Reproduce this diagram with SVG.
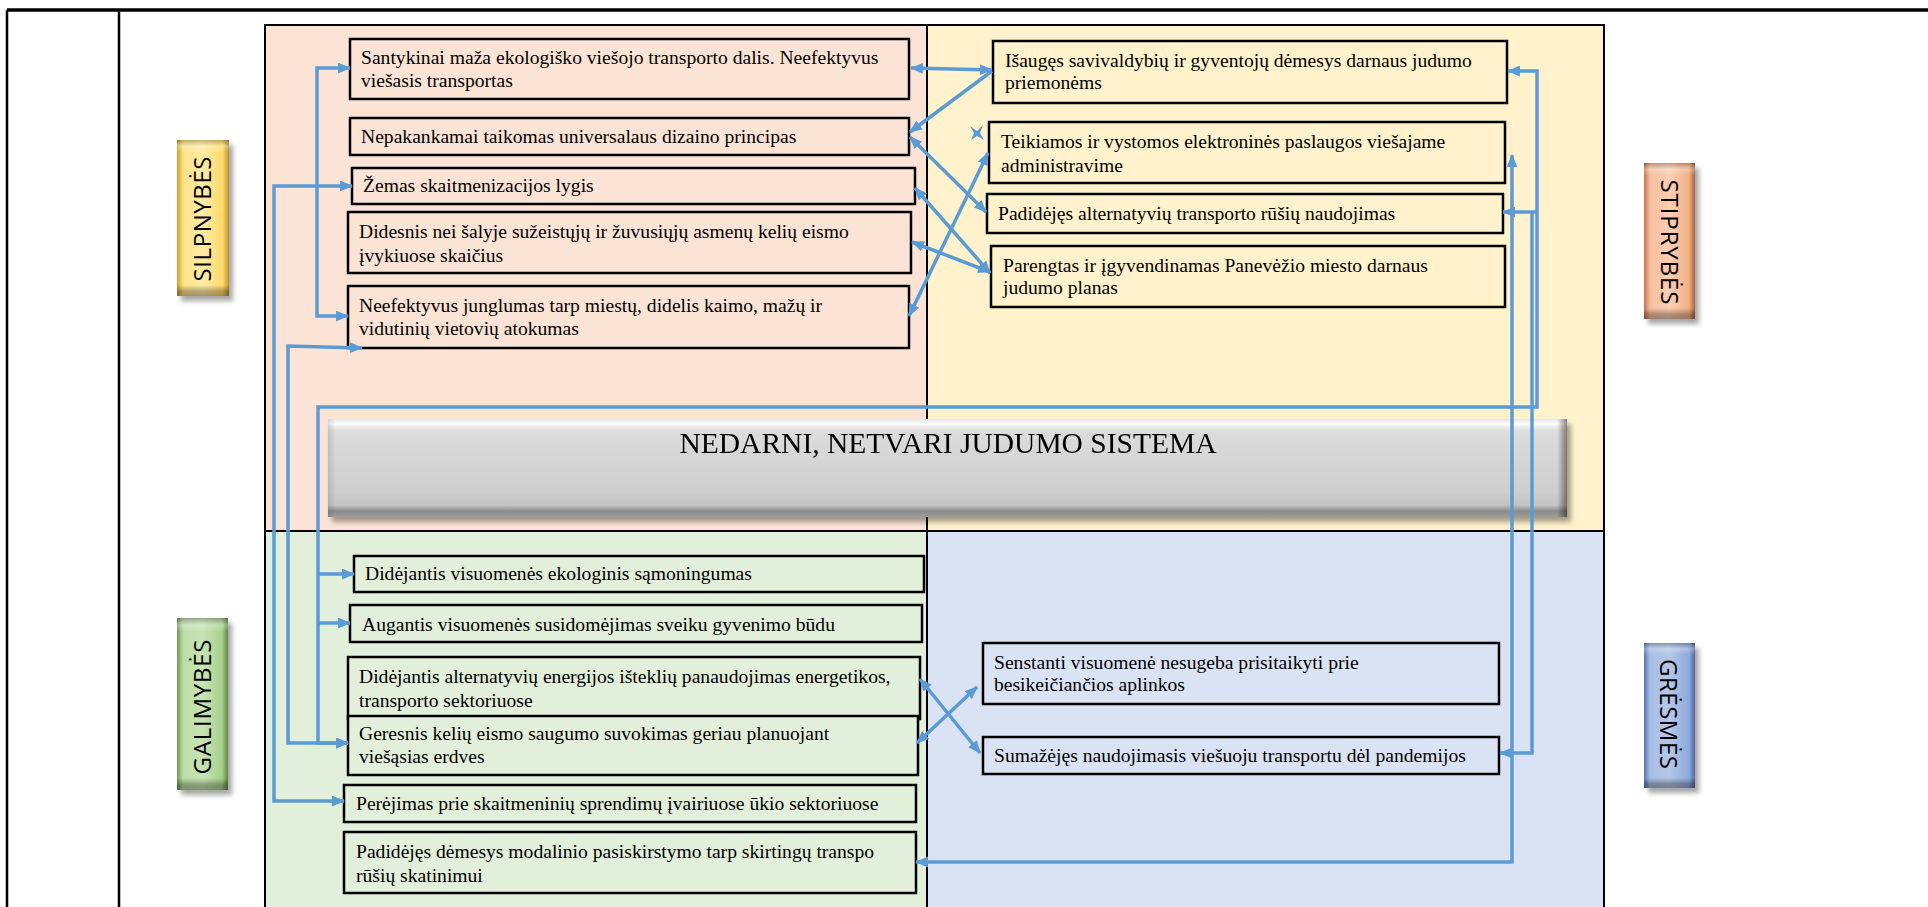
<svg xmlns="http://www.w3.org/2000/svg" width="1928" height="907" viewBox="0 0 1928 907">
<defs>
<style>
.t{font-family:"Liberation Serif","Times New Roman",serif;font-size:19.6px;fill:#000}
.box{stroke:#000;stroke-width:2.5}
.pk{fill:#FBE4D5}.yl{fill:#FFF2CC}.gr{fill:#E2EFDA}.bl{fill:#DAE3F3}
.panel{stroke:#000;stroke-width:2}
.lab{font-family:"Open Sans","Liberation Sans",sans-serif;font-size:24px;fill:#000}
.c{fill:none;stroke:#5B9BD5;stroke-width:3.5;stroke-linejoin:miter}
.bar{font-family:"Liberation Serif","Times New Roman",serif;font-size:29.5px;fill:#000}
</style>
<marker id="ah" viewBox="0 0 12 10" refX="11" refY="5" markerWidth="13" markerHeight="11" markerUnits="userSpaceOnUse" orient="auto-start-reverse">
<path d="M0,0 L12,5 L0,10 z" fill="#5B9BD5"/>
</marker>
<linearGradient id="gGold" x1="0" y1="0" x2="1" y2="0">
<stop offset="0" stop-color="#C9A12E"/><stop offset="0.12" stop-color="#FFE38A"/><stop offset="0.5" stop-color="#FFEBA6"/><stop offset="0.88" stop-color="#FFDA6A"/><stop offset="1" stop-color="#B8922A"/>
</linearGradient>
<linearGradient id="gSal" x1="0" y1="0" x2="1" y2="0">
<stop offset="0" stop-color="#C07650"/><stop offset="0.12" stop-color="#F8BFA0"/><stop offset="0.5" stop-color="#FBCDB3"/><stop offset="0.88" stop-color="#F4B183"/><stop offset="1" stop-color="#A8643F"/>
</linearGradient>
<linearGradient id="gGrn" x1="0" y1="0" x2="1" y2="0">
<stop offset="0" stop-color="#6E9A52"/><stop offset="0.12" stop-color="#BCDDA7"/><stop offset="0.5" stop-color="#C8E4B5"/><stop offset="0.88" stop-color="#A9D18E"/><stop offset="1" stop-color="#5E8644"/>
</linearGradient>
<linearGradient id="gBlu" x1="0" y1="0" x2="1" y2="0">
<stop offset="0" stop-color="#5A74AC"/><stop offset="0.12" stop-color="#A9BEE6"/><stop offset="0.5" stop-color="#B4C7E7"/><stop offset="0.88" stop-color="#8FAADC"/><stop offset="1" stop-color="#4E679E"/>
</linearGradient>
<linearGradient id="gBev" x1="0" y1="0" x2="0" y2="1">
<stop offset="0" stop-color="#000" stop-opacity="0.25"/><stop offset="0.04" stop-color="#fff" stop-opacity="0.25"/><stop offset="0.08" stop-color="#fff" stop-opacity="0"/><stop offset="0.93" stop-color="#000" stop-opacity="0"/><stop offset="0.97" stop-color="#000" stop-opacity="0.3"/><stop offset="1" stop-color="#000" stop-opacity="0.35"/>
</linearGradient>
<linearGradient id="gBar" x1="0" y1="0" x2="0" y2="1">
<stop offset="0" stop-color="#e6e6e6"/><stop offset="0.05" stop-color="#fcfcfc"/><stop offset="0.12" stop-color="#dcdcdc"/><stop offset="0.75" stop-color="#cecece"/><stop offset="0.88" stop-color="#c4c4c4"/><stop offset="0.94" stop-color="#8a8a8a"/><stop offset="1" stop-color="#9e9e9e"/>
</linearGradient>
<linearGradient id="gBarR" x1="0" y1="0" x2="1" y2="0">
<stop offset="0" stop-color="#000" stop-opacity="0.12"/><stop offset="0.006" stop-color="#000" stop-opacity="0"/><stop offset="0.992" stop-color="#000" stop-opacity="0"/><stop offset="1" stop-color="#000" stop-opacity="0.45"/>
</linearGradient>
<filter id="sh" x="-20%" y="-20%" width="150%" height="150%">
<feDropShadow dx="4" dy="5" stdDeviation="2.5" flood-color="#000" flood-opacity="0.35"/>
</filter>
</defs>

<g id="frame" fill="none" stroke="#000">
<line x1="7" y1="10" x2="1928" y2="10" stroke-width="3.5"/>
<line x1="7" y1="10" x2="7" y2="907" stroke-width="2.5"/>
<line x1="119" y1="10" x2="119" y2="907" stroke-width="2.5"/>
</g>

<g id="panels">
<rect id="panel-silpnybes" class="panel pk" x="265" y="25" width="662" height="506"/>
<rect id="panel-stiprybes" class="panel yl" x="927" y="25" width="677" height="506"/>
<rect id="panel-galimybes" class="panel gr" x="265" y="531" width="662" height="390"/>
<rect id="panel-gresmes" class="panel bl" x="927" y="531" width="677" height="390"/>
</g>

<g id="center-bar" filter="url(#sh)">
<rect x="328" y="419" width="1239" height="98" fill="url(#gBar)"/>
<rect x="328" y="419" width="1239" height="98" fill="url(#gBarR)"/>
<text class="bar" x="948" y="453" text-anchor="middle">NEDARNI, NETVARI JUDUMO SISTEMA</text>
</g>

<g id="label-silpnybes">
<rect x="177" y="140" width="52" height="156" fill="url(#gGold)" filter="url(#sh)"/>
<rect x="177" y="140" width="52" height="156" fill="url(#gBev)"/>
<text class="lab" transform="translate(211,219) rotate(-90)" text-anchor="middle" textLength="125" lengthAdjust="spacing">SILPNYBĖS</text>
</g>
<g id="label-stiprybes">
<rect x="1644" y="163" width="51" height="156" fill="url(#gSal)" filter="url(#sh)"/>
<rect x="1644" y="163" width="51" height="156" fill="url(#gBev)"/>
<text class="lab" transform="translate(1661,242) rotate(90)" text-anchor="middle" textLength="125" lengthAdjust="spacing">STIPRYBĖS</text>
</g>
<g id="label-galimybes">
<rect x="177" y="618" width="51" height="172" fill="url(#gGrn)" filter="url(#sh)"/>
<rect x="177" y="618" width="51" height="172" fill="url(#gBev)"/>
<text class="lab" transform="translate(211,707) rotate(-90)" text-anchor="middle" textLength="135" lengthAdjust="spacing">GALIMYBĖS</text>
</g>
<g id="label-gresmes">
<rect x="1644" y="643" width="51" height="145" fill="url(#gBlu)" filter="url(#sh)"/>
<rect x="1644" y="643" width="51" height="145" fill="url(#gBev)"/>
<text class="lab" transform="translate(1660,714) rotate(90)" text-anchor="middle" textLength="110" lengthAdjust="spacing">GRĖSMĖS</text>
</g>

<g id="w1"><rect class="box pk" x="350" y="39" width="559" height="60"/>
<text class="t" x="361" y="64">Santykinai maža ekologiško viešojo transporto dalis. Neefektyvus</text>
<text class="t" x="361" y="87">viešasis transportas</text></g>
<g id="w2"><rect class="box pk" x="350" y="118" width="559" height="37"/>
<text class="t" x="361" y="143">Nepakankamai taikomas universalaus dizaino principas</text></g>
<g id="w3"><rect class="box pk" x="352" y="168" width="563" height="36"/>
<text class="t" x="363" y="192">Žemas skaitmenizacijos lygis</text></g>
<g id="w4"><rect class="box pk" x="348" y="212" width="563" height="61"/>
<text class="t" x="359" y="238">Didesnis nei šalyje sužeistųjų ir žuvusiųjų asmenų kelių eismo</text>
<text class="t" x="359" y="262">įvykiuose skaičius</text></g>
<g id="w5"><rect class="box pk" x="348" y="286" width="561" height="62"/>
<text class="t" x="359" y="312">Neefektyvus junglumas tarp miestų, didelis kaimo, mažų ir</text>
<text class="t" x="359" y="335">vidutinių vietovių atokumas</text></g>

<g id="s1"><rect class="box yl" x="993" y="41" width="514" height="62"/>
<text class="t" x="1005" y="67">Išaugęs savivaldybių ir gyventojų dėmesys darnaus judumo</text>
<text class="t" x="1005" y="89">priemonėms</text></g>
<g id="s2"><rect class="box yl" x="989" y="122" width="516" height="61"/>
<text class="t" x="1001" y="148">Teikiamos ir vystomos elektroninės paslaugos viešajame</text>
<text class="t" x="1001" y="172">administravime</text></g>
<g id="s3"><rect class="box yl" x="987" y="194" width="516" height="39"/>
<text class="t" x="998" y="220">Padidėjęs alternatyvių transporto rūšių naudojimas</text></g>
<g id="s4"><rect class="box yl" x="991" y="246" width="514" height="61"/>
<text class="t" x="1003" y="272">Parengtas ir įgyvendinamas Panevėžio miesto darnaus</text>
<text class="t" x="1003" y="294">judumo planas</text></g>

<g id="o1"><rect class="box gr" x="354" y="556" width="570" height="36"/>
<text class="t" x="365" y="580">Didėjantis visuomenės ekologinis sąmoningumas</text></g>
<g id="o2"><rect class="box gr" x="350" y="605" width="572" height="37"/>
<text class="t" x="362" y="631">Augantis visuomenės susidomėjimas sveiku gyvenimo būdu</text></g>
<g id="o3"><rect class="box gr" x="348" y="657" width="572" height="62"/>
<text class="t" x="359" y="683">Didėjantis alternatyvių energijos išteklių panaudojimas energetikos,</text>
<text class="t" x="359" y="707">transporto sektoriuose</text></g>
<g id="o4"><rect class="box gr" x="348" y="716" width="570" height="59"/>
<text class="t" x="359" y="740">Geresnis kelių eismo saugumo suvokimas geriau planuojant</text>
<text class="t" x="359" y="763">viešąsias erdves</text></g>
<g id="o5"><rect class="box gr" x="344" y="785" width="572" height="37"/>
<text class="t" x="356" y="810">Perėjimas prie skaitmeninių sprendimų įvairiuose ūkio sektoriuose</text></g>
<g id="o6"><rect class="box gr" x="344" y="832" width="572" height="61"/>
<text class="t" x="356" y="858">Padidėjęs dėmesys modalinio pasiskirstymo tarp skirtingų transpo</text>
<text class="t" x="356" y="882">rūšių skatinimui</text></g>

<g id="t1"><rect class="box bl" x="983" y="643" width="516" height="61"/>
<text class="t" x="994" y="669">Senstanti visuomenė nesugeba prisitaikyti prie</text>
<text class="t" x="994" y="691">besikeičiančios aplinkos</text></g>
<g id="t2"><rect class="box bl" x="983" y="737" width="516" height="37"/>
<text class="t" x="994" y="762">Sumažėjęs naudojimasis viešuoju transportu dėl pandemijos</text></g>

<g id="connectors">
<path class="c" d="M350 68 H317 V316 H348" marker-start="url(#ah)" marker-end="url(#ah)"/>
<path class="c" d="M352 186 H274 V801 H344" marker-start="url(#ah)" marker-end="url(#ah)"/>
<path class="c" d="M362 348 L288 346 V743 H348" marker-start="url(#ah)" marker-end="url(#ah)"/>
<path class="c" d="M1508 71 H1537 V407 H318 V743 H348" marker-start="url(#ah)" marker-end="url(#ah)"/>
<path class="c" d="M318 574 H354" marker-end="url(#ah)"/>
<path class="c" d="M318 623 H350" marker-end="url(#ah)"/>
<path class="c" d="M1503 212 H1537" marker-start="url(#ah)"/>
<path class="c" d="M1532 212 V753 H1500" marker-end="url(#ah)"/>
<path class="c" d="M1512 155 V862 H916" marker-start="url(#ah)" marker-end="url(#ah)"/>
<path class="c" d="M911 68 L992 70" marker-start="url(#ah)" marker-end="url(#ah)"/>
<path class="c" d="M992 71 L910 132" marker-end="url(#ah)"/>
<path class="c" d="M910 137 L986 212" marker-start="url(#ah)" marker-end="url(#ah)"/>
<path class="c" d="M915 188 L990 273" marker-start="url(#ah)" marker-end="url(#ah)"/>
<path class="c" d="M912 242 L990 272" marker-start="url(#ah)" marker-end="url(#ah)"/>
<path class="c" d="M909 316 L988 153" marker-start="url(#ah)" marker-end="url(#ah)"/>
<path class="c" d="M920 679 L980 753" marker-start="url(#ah)" marker-end="url(#ah)"/>
<path class="c" d="M917 743 L977 687" marker-start="url(#ah)" marker-end="url(#ah)"/>
<polygon points="970,126 977,131 983,125 980,133 984,140 977,136 971,140 974,133" fill="#5B9BD5"/>
</g>
</svg>
